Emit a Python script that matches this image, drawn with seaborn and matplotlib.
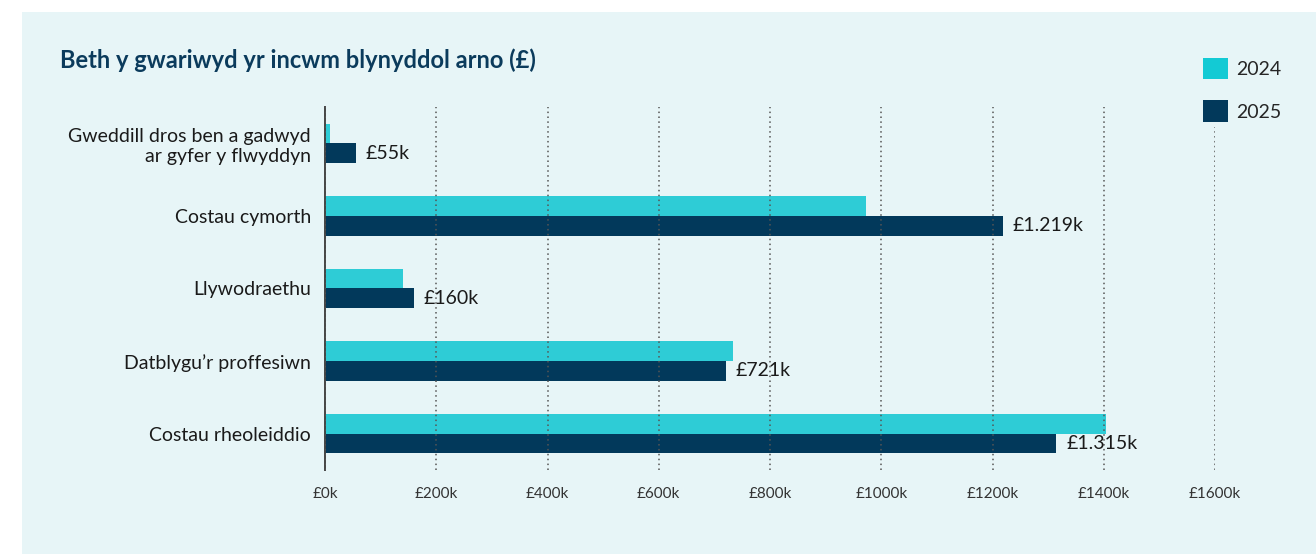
import pandas as pd
import matplotlib
matplotlib.use('Agg')
import matplotlib.pyplot as plt
from matplotlib import font_manager
from matplotlib.patches import Rectangle
import seaborn as sns

categories = ['Gweddill dros ben a gadwyd\nar gyfer y flwyddyn', 'Costau cymorth', 'Llywodraethu',
              'Datblygu\u2019r proffesiwn', 'Costau rheoleiddio']
years = ['2024', '2025']
values_2024 = [9, 972, 141, 733, 1404]
values_2025 = [55, 1219, 160, 721, 1315]
labels_2025 = ['£55k', '£1.219k', '£160k', '£721k', '£1.315k']
x_ticks = [0, 200, 400, 600, 800, 1000, 1200, 1400, 1600]
x_ticklabels = [f'£{t}k' for t in x_ticks]

cyan = '#2ECCD6'
navy = '#02395B'
panel = '#E7F5F7'

sns.set_theme(style='white')
installed = {f.name for f in font_manager.fontManager.ttflist}
fams = [f for f in ['Liberation Sans Narrow', 'Lato', 'DejaVu Sans'] if f in installed]
plt.rcParams['font.family'] = fams

df = pd.DataFrame({
    'category': categories * 2,
    'year': [years[0]] * len(categories) + [years[1]] * len(categories),
    'value': values_2024 + values_2025,
})

fig = plt.figure(figsize=(13.16, 5.54), dpi=100)
fig.patch.set_facecolor('white')
fig.patches.append(Rectangle((22 / 1316, 0), 1 - 22 / 1316, 1 - 12 / 554, transform=fig.transFigure,
                             facecolor=panel, edgecolor='none', zorder=-10))

ax = fig.add_axes([325 / 1316, 1 - 470 / 554, 890 / 1316, 363 / 554])
ax.set_facecolor('none')
sns.barplot(data=df, y='category', x='value', hue='year', order=categories, hue_order=years,
            palette=[cyan, navy], width=0.54, gap=0, saturation=1, ax=ax, legend=False,
            linewidth=0, edgecolor='none', zorder=2)

ax.bar_label(ax.containers[1], labels=labels_2025, padding=7, fontsize=14, color='#1a1a1a')

ax.set_xlim(0, 1600)
ax.set_xticks(x_ticks)
ax.set_xticklabels(x_ticklabels, fontsize=11, color='#333333')
ax.tick_params(axis='x', length=0, pad=12)
ax.tick_params(axis='y', length=0, pad=10, labelsize=14, labelcolor='#1a1a1a')
for lbl in ax.get_yticklabels():
    lbl.set_horizontalalignment('right')
ax.set_xlabel('')
ax.set_ylabel('')

ax.xaxis.grid(True, linestyle=(0, (1, 2.2)), color='#555555', linewidth=1.1, zorder=3)
ax.yaxis.grid(False)
ax.set_axisbelow(False)
for s in ['top', 'right', 'bottom']:
    ax.spines[s].set_visible(False)
ax.spines['left'].set_color('#444444')
ax.spines['left'].set_linewidth(1.4)

fig.text(60 / 1316, 1 - 60 / 554, 'Beth y gwariwyd yr incwm blynyddol arno (£)', fontsize=17,
         fontweight='bold', color='#0B3B5C', va='center', ha='left')

handles = [Rectangle((0, 0), 1, 1, facecolor=c, edgecolor='none') for c in ['#13CAD4', navy]]
leg = fig.legend(handles, years, loc='upper left', bbox_to_anchor=(1197 / 1316, 1 - 52 / 554),
                 frameon=True, facecolor=panel, edgecolor='none', framealpha=1, fontsize=14,
                 handlelength=1.3, handleheight=1.3, labelspacing=1.1, handletextpad=0.4,
                 borderpad=0.3, borderaxespad=0)

fig.savefig('out.png', dpi=100, facecolor=fig.get_facecolor())
